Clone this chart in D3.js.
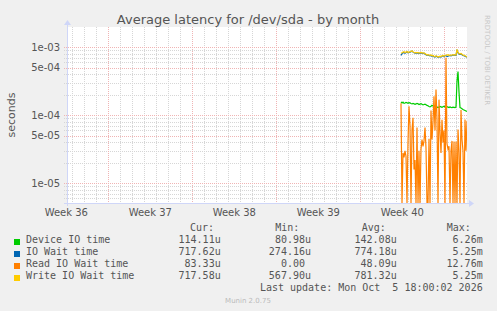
<!DOCTYPE html>
<html>
<head>
<meta charset="utf-8">
<script src="https://cdn.jsdelivr.net/npm/d3@7"></script>
<style>
  html, body { margin: 0; padding: 0; background: #f0f0f0; }
  svg { display: block; }
  text { white-space: pre; }
</style>
</head>
<body>
<div id="chart"></div>
<script>
// series, one sample every 2 hours
const firstSample = Date.UTC(2026, 8, 30, 9, 24);
const stepMs = 2 * 3600 * 1000;

const deviceIO = [
  1.58e-4, 1.52e-4, 1.56e-4, 1.50e-4, 1.52e-4, 1.55e-4, 1.53e-4, 1.50e-4, 1.53e-4, 1.52e-4,
  1.49e-4, 1.47e-4, 1.50e-4, 1.48e-4, 1.45e-4, 1.47e-4, 1.50e-4, 1.48e-4, 1.44e-4, 1.46e-4,
  1.48e-4, 1.45e-4, 1.42e-4, 1.44e-4, 1.46e-4, 1.43e-4, 1.40e-4, 1.38e-4, 1.35e-4, 1.33e-4,
  1.36e-4, 1.40e-4, 1.37e-4, 1.35e-4, 1.38e-4, 1.36e-4, 1.33e-4, 1.30e-4, 1.32e-4, 1.35e-4,
  1.33e-4, 1.31e-4, 1.34e-4, 1.36e-4, 1.33e-4, 1.31e-4, 1.34e-4, 1.32e-4, 1.30e-4, 1.33e-4,
  1.31e-4, 1.30e-4, 1.32e-4, 1.31e-4, 1.30e-4, 1.32e-4, 3.2e-4, 4.4e-4, 2.2e-4, 1.30e-4,
  1.28e-4, 1.25e-4, 1.22e-4, 1.20e-4, 1.18e-4, 1.16e-4, 1.14e-4
];

const ioWait = [
  7.6e-4, 8.1e-4, 8.3e-4, 8.4e-4, 8.2e-4, 8.4e-4, 8.6e-4, 8.3e-4, 8.4e-4, 8.5e-4,
  8.6e-4, 8.8e-4, 8.5e-4, 8.3e-4, 8.2e-4, 8.3e-4, 8.2e-4, 8.3e-4, 8.1e-4, 8.2e-4,
  8.3e-4, 8.2e-4, 8.1e-4, 8.2e-4, 8.0e-4, 7.8e-4, 7.6e-4, 7.7e-4, 7.6e-4, 7.5e-4,
  7.6e-4, 7.4e-4, 7.5e-4, 7.3e-4, 7.2e-4, 7.4e-4, 7.3e-4, 7.1e-4, 7.2e-4, 7.3e-4,
  7.2e-4, 7.4e-4, 7.5e-4, 7.3e-4, 7.5e-4, 7.6e-4, 7.3e-4, 7.4e-4, 7.5e-4, 7.6e-4,
  7.5e-4, 7.6e-4, 7.7e-4, 7.6e-4, 7.7e-4, 7.6e-4, 9.2e-4, 8.3e-4, 8.0e-4, 7.9e-4,
  8.0e-4, 7.8e-4, 7.6e-4, 7.5e-4, 7.4e-4, 7.3e-4, 7.18e-4
];

const readWait = [
  1.5e-4, 0, 2.8e-5, 2.4e-5, 3.0e-5, 2.5e-5, 0, 4.0e-5, 1.36e-4, 7.0e-5,
  0, 6.0e-5, 9.2e-5, 1.6e-5, 2.2e-5, 0, 6.6e-5, 0, 3.0e-5, 0,
  3.2e-5, 4.4e-5, 3.5e-5, 4.2e-5, 6.6e-5, 3.3e-5, 0, 0, 4.5e-5, 0,
  1.18e-4, 4.4e-5, 8.0e-5, 1.9e-4, 6.0e-5, 2.4e-4, 8.6e-5, 0, 1.7e-4, 5.8e-5,
  2.8e-5, 8.6e-5, 4.0e-5, 6.0e-5, 0, 7.0e-4, 3.8e-5, 3.2e-5, 3.5e-5, 0,
  3.0e-5, 4.2e-5, 0, 4.1e-5, 0, 4.1e-5, 0, 6.2e-5, 3.0e-5, 0,
  1.2e-4, 4.4e-5, 3.0e-5, 0, 8.7e-5, 3.0e-5, 8.3e-5
];

const writeWait = [
  8.2e-4, 8.3e-4, 8.5e-4, 8.6e-4, 8.4e-4, 8.5e-4, 8.7e-4, 8.4e-4, 8.5e-4, 8.6e-4,
  8.7e-4, 8.9e-4, 8.6e-4, 8.4e-4, 8.3e-4, 8.4e-4, 8.3e-4, 8.4e-4, 8.2e-4, 8.3e-4,
  8.4e-4, 8.3e-4, 8.2e-4, 8.3e-4, 8.1e-4, 7.9e-4, 7.7e-4, 7.8e-4, 7.7e-4, 7.6e-4,
  7.7e-4, 7.5e-4, 7.6e-4, 7.4e-4, 7.3e-4, 7.5e-4, 7.4e-4, 7.2e-4, 7.3e-4, 7.4e-4,
  7.3e-4, 7.5e-4, 7.6e-4, 7.4e-4, 7.6e-4, 7.7e-4, 7.7e-4, 7.8e-4, 7.6e-4, 7.7e-4,
  7.6e-4, 7.7e-4, 7.8e-4, 7.7e-4, 7.8e-4, 7.7e-4, 9.3e-4, 8.4e-4, 8.1e-4, 8.0e-4,
  8.1e-4, 7.9e-4, 7.7e-4, 7.6e-4, 7.5e-4, 7.4e-4, 7.18e-4
];

const yTickValues = [1e-5, 5e-5, 1e-4, 5e-4, 1e-3];
const yTickLabels = ["1e-05", "5e-05", "1e-04", "5e-04", "1e-03"];

const weekStarts = [Date.UTC(2026, 7, 30), Date.UTC(2026, 8, 6), Date.UTC(2026, 8, 13), Date.UTC(2026, 8, 20), Date.UTC(2026, 8, 27)];
const weekLabels = ["Week 36", "Week 37", "Week 38", "Week 39", "Week 40"];

const legendNames = ["Device IO time", "IO Wait time", "Read IO Wait time", "Write IO Wait time"];
const legendColors = ["#00cc00", "#0066b3", "#ff8000", "#ffcc00"];
const curValues = ["114.11u", "717.62u", "83.33u", "717.58u"];
const minValues = ["80.98u", "274.16u", "0.00\u00a0", "567.90u"];
const avgValues = ["142.08u", "774.18u", "48.09u", "781.32u"];
const maxValues = ["6.26m", "5.25m", "12.76m", "5.25m"];

const width = 497, height = 311;
const margin = { left: 67, right: 30, top: 27, bottom: 108 };
const plotW = width - margin.left - margin.right;
const plotH = height - margin.top - margin.bottom;

const svg = d3.select("#chart").append("svg")
  .attr("width", width)
  .attr("height", height);

svg.append("rect").attr("width", width).attr("height", height).attr("fill", "#f0f0f0");

const x = d3.scaleUtc()
  .domain([Date.UTC(2026, 8, 2, 13, 24), Date.UTC(2026, 9, 5, 21, 24)])
  .range([margin.left, margin.left + plotW]);

const y = d3.scaleLog()
  .domain([5.13e-6, 1.99e-3])
  .range([margin.top + plotH, margin.top])
  .clamp(true);

const px = v => Math.round(v) + 0.5;

// canvas
svg.append("rect")
  .attr("x", margin.left).attr("y", margin.top)
  .attr("width", plotW).attr("height", plotH)
  .attr("fill", "#ffffff");

const grid = svg.append("g").attr("shape-rendering", "crispEdges");
const minorColor = "#d6d6d6";
const majorColor = "#f0b4b4";

// minor horizontal grid
const minorY = [];
for (let e = -6; e <= -3; e++) {
  for (let k = 2; k <= 9; k++) {
    const v = k * Math.pow(10, e);
    if (k !== 5 && v > y.domain()[0] && v < y.domain()[1]) minorY.push(v);
  }
}
grid.selectAll(".hminor").data(minorY).join("line")
  .attr("x1", margin.left - 3).attr("x2", margin.left + plotW)
  .attr("y1", d => px(y(d))).attr("y2", d => px(y(d)))
  .attr("stroke", minorColor).attr("stroke-dasharray", "1,1");

// minor vertical grid (days)
const days = d3.utcDay.range(x.domain()[0], x.domain()[1]).filter(d => d.getUTCDay() !== 0);
grid.selectAll(".vminor").data(days).join("line")
  .attr("x1", d => px(x(d))).attr("x2", d => px(x(d)))
  .attr("y1", margin.top).attr("y2", margin.top + plotH + 2)
  .attr("stroke", minorColor).attr("stroke-dasharray", "1,1");

// major grid
grid.selectAll(".hmajor").data(yTickValues).join("line")
  .attr("x1", margin.left - 3).attr("x2", margin.left + plotW)
  .attr("y1", d => px(y(d))).attr("y2", d => px(y(d)))
  .attr("stroke", majorColor).attr("stroke-dasharray", "1,1");

const weeks = d3.utcSunday.range(x.domain()[0], x.domain()[1]);
grid.selectAll(".vmajor").data(weeks).join("line")
  .attr("x1", d => px(x(d))).attr("x2", d => px(x(d)))
  .attr("y1", margin.top).attr("y2", margin.top + plotH + 2)
  .attr("stroke", majorColor).attr("stroke-dasharray", "1,1");

// series
svg.append("clipPath").attr("id", "plot-clip")
  .append("rect")
  .attr("x", margin.left).attr("y", margin.top)
  .attr("width", plotW).attr("height", plotH);

const seriesList = [deviceIO, ioWait, readWait, writeWait];

const line = d3.line()
  .x((d, i) => x(new Date(firstSample + i * stepMs)))
  .y(d => y(Math.max(d, y.domain()[0])));

seriesList.forEach((values, i) => {
  svg.append("path")
    .datum(values)
    .attr("clip-path", "url(#plot-clip)")
    .attr("fill", "none")
    .attr("stroke", legendColors[i])
    .attr("stroke-width", 1.2)
    .attr("d", line);
});

// axes
const axisColor = "#cfd6f8";
svg.append("line")
  .attr("x1", margin.left - 3).attr("x2", margin.left + plotW + 3)
  .attr("y1", px(margin.top + plotH)).attr("y2", px(margin.top + plotH))
  .attr("stroke", axisColor);
svg.append("line")
  .attr("x1", px(margin.left)).attr("x2", px(margin.left))
  .attr("y1", margin.top + plotH + 3).attr("y2", margin.top - 3)
  .attr("stroke", axisColor);
svg.append("path")
  .attr("d", `M${margin.left + plotW + 2},${margin.top + plotH - 3} L${margin.left + plotW + 7},${margin.top + plotH + 0.5} L${margin.left + plotW + 2},${margin.top + plotH + 4} Z`)
  .attr("fill", axisColor);
svg.append("path")
  .attr("d", `M${margin.left - 3},${margin.top - 2} L${margin.left + 0.5},${margin.top - 7} L${margin.left + 4},${margin.top - 2} Z`)
  .attr("fill", axisColor);

// tick labels
svg.selectAll(".ylab").data(yTickValues).join("text")
  .attr("x", margin.left - 7)
  .attr("y", d => y(d) + 3.5)
  .attr("text-anchor", "end")
  .attr("font-family", "DejaVu Sans")
  .attr("font-size", "10px")
  .attr("fill", "#555")
  .text((d, i) => yTickLabels[i]);

svg.selectAll(".xlab").data(weekStarts).join("text")
  .attr("x", d => x(new Date(d + 3.5 * 86400000)))
  .attr("y", 215.7)
  .attr("text-anchor", "middle")
  .attr("font-family", "DejaVu Sans")
  .attr("font-size", "10px")
  .attr("fill", "#555")
  .text((d, i) => weekLabels[i]);

svg.append("text")
  .attr("transform", `translate(15, ${margin.top + plotH / 2}) rotate(-90)`)
  .attr("text-anchor", "middle")
  .attr("font-family", "DejaVu Sans")
  .attr("font-size", "11px")
  .attr("fill", "#555")
  .text("seconds");

svg.append("text")
  .attr("x", 248).attr("y", 24)
  .attr("text-anchor", "middle")
  .attr("font-family", "DejaVu Sans")
  .attr("font-size", "13px")
  .attr("fill", "#555")
  .text("Average latency for /dev/sda - by month");

svg.append("text")
  .attr("transform", "translate(485, 15) rotate(90)")
  .attr("font-family", "DejaVu Sans")
  .attr("font-size", "7px")
  .attr("fill", "#c8c8c8")
  .text("RRDTOOL / TOBI OETIKER");

// legend
const mono = "DejaVu Sans Mono";
const headers = [["Cur:", 190], ["Min:", 275.3], ["Avg:", 361.7], ["Max:", 446.7]];
headers.forEach(h => {
  svg.append("text")
    .attr("x", h[1]).attr("y", 231.3)
    .attr("font-family", mono).attr("font-size", "10px").attr("fill", "#555")
    .text(h[0]);
});

const columns = [[curValues, 220.7], [minValues, 311], [avgValues, 396.7], [maxValues, 482.7]];
legendNames.forEach((name, i) => {
  const rowY = 243.3 + i * 12;
  svg.append("rect")
    .attr("x", 14).attr("y", rowY - 4.3)
    .attr("width", 6).attr("height", 6)
    .attr("fill", legendColors[i]);
  svg.append("text")
    .attr("x", 26).attr("y", rowY)
    .attr("font-family", mono).attr("font-size", "10px").attr("fill", "#555")
    .text(name);
  columns.forEach(c => {
    svg.append("text")
      .attr("x", c[1]).attr("y", rowY)
      .attr("text-anchor", "end")
      .attr("font-family", mono).attr("font-size", "10px").attr("fill", "#555")
      .text(c[0][i]);
  });
});

svg.append("text")
  .attr("x", 482.7).attr("y", 291.3)
  .attr("text-anchor", "end")
  .attr("font-family", mono).attr("font-size", "10px").attr("fill", "#555")
  .text("Last update: Mon Oct  5 18:00:02 2026");

svg.append("text")
  .attr("x", 248).attr("y", 303)
  .attr("text-anchor", "middle")
  .attr("font-family", "DejaVu Sans")
  .attr("font-size", "7px")
  .attr("fill", "#bbb")
  .text("Munin 2.0.75");
</script>
</body>
</html>
